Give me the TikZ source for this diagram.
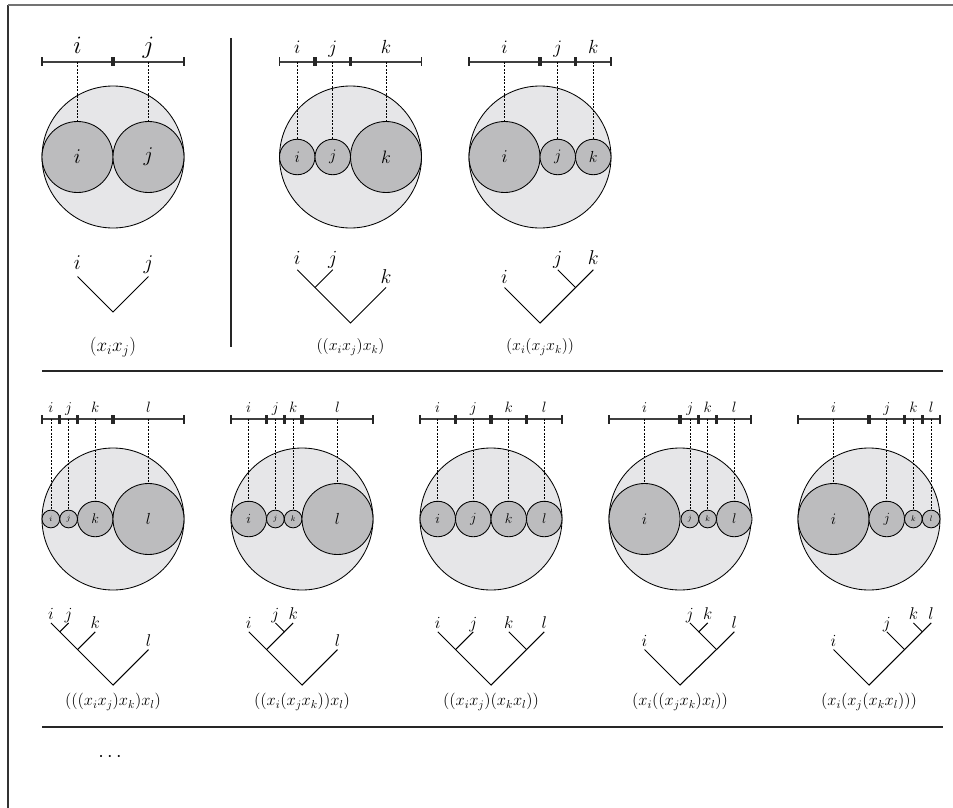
\RequirePackage{fix-cm}
\documentclass[tikz,border=0pt]{standalone}
\definecolor{bigfill}{HTML}{E6E6E8}
\definecolor{subfill}{HTML}{BCBCBE}
\newcommand{\myfs}[1]{\fontsize{#1}{#1}\selectfont}
% tick node: name, x, y, style
\newcommand{\mktick}[4]{\node[#4] (#1) at (#2,#3) {};}
% sub circle: name, x, y, diameter, font size, letter
\newcommand{\mkcirc}[6]{\node[subc, minimum size=#4pt, font=\myfs{#5}] (#1) at (#2,#3) {$#6$};}
% guide + top label: circle name, x, bar y, label baseline y, font size, letter
\newcommand{\mkguide}[6]{%
  \coordinate (#1g) at (#2,#3);
  \draw[guide] (#1g) -- (#1.north);
  \node[anchor=base, inner sep=0pt, font=\myfs{#5}] (#1lab) at (#2,#4) {$#6$};}
% tree leaf: name, x, y, label offset, font size, letter
\newcommand{\mkleaf}[6]{%
  \coordinate (#1) at (#2,#3);
  \node[anchor=base, inner sep=0pt, font=\myfs{#5}] (#1lab) at (#2,#3-#4) {$#6$};}
\begin{document}
\begin{tikzpicture}[x=1pt,y=-1pt,
  bigc/.style={circle, draw=black, line width=0.85pt, fill=bigfill, minimum size=142pt, inner sep=0pt},
  subc/.style={circle, draw=black, line width=0.85pt, fill=subfill, inner sep=0pt},
  barline/.style={line width=1.3pt, draw=black!75},
  etick/.style={rectangle, fill=black!85, minimum width=1.8pt, minimum height=9pt, inner sep=0pt},
  mtick/.style={rectangle, fill=black!85, minimum width=3.4pt, minimum height=9pt, inner sep=0pt},
  guide/.style={dash pattern=on 2pt off 1.4pt, line width=0.7pt},
  branch/.style={line width=1.05pt, draw=black},
  sepline/.style={line width=2.6pt, draw=black!85},
  capt/.style={inner sep=0pt}
]
\useasboundingbox (0,0) rectangle (953,808);
% frame
\coordinate (F0) at (8,808); \coordinate (F1) at (8,5); \coordinate (F2) at (953,5);
\draw[line width=1.3pt, black!80] (F0) -- (F1);
\draw[line width=2pt, black!55] (F1) -- (F2);
% separators
\coordinate (S1a) at (42,371); \coordinate (S1b) at (943,371);
\coordinate (S2a) at (42,727); \coordinate (S2b) at (943,727);
\coordinate (V1a) at (231,38); \coordinate (V1b) at (231,347);
\draw[sepline] (S1a) -- (S1b);
\draw[sepline] (S2a) -- (S2b);
\draw[sepline] (V1a) -- (V1b);

%%%%%%%% Panel A
\coordinate (Ab0) at (42,62); \coordinate (Ab1) at (184,62);
\draw[barline] (Ab0) -- (Ab1);
\mktick{At0}{42}{62}{etick}\mktick{At1}{113}{62}{mtick}\mktick{At2}{184}{62}{etick}
\node[bigc] (Abig) at (113,157) {};
\mkcirc{Ai}{77.5}{157}{71}{21}{i}
\mkcirc{Aj}{148.5}{157}{71}{21}{j}
\mkguide{Ai}{77.5}{62}{53.5}{25}{i}
\mkguide{Aj}{148.5}{62}{53.5}{25}{j}
\coordinate (Ar) at (113,312);
\mkleaf{Ali}{77.5}{276.5}{7}{21}{i}
\mkleaf{Alj}{148.5}{276.5}{7}{21}{j}
\draw[branch] (Ali) -- (Ar) -- (Alj);
\node[capt, font=\myfs{19}] (Acap) at (113,347) {$(x_ix_j)$};

%%%%%%%% Panel B
\coordinate (Bb0) at (279.5,62); \coordinate (Bb1) at (421.5,62);
\draw[barline] (Bb0) -- (Bb1);
\mktick{Bt0}{279.5}{62}{etick}\mktick{Bt1}{315}{62}{mtick}\mktick{Bt2}{350.5}{62}{mtick}\mktick{Bt3}{421.5}{62}{etick}
\node[bigc] (Bbig) at (350.5,157) {};
\mkcirc{Bi}{297.25}{157}{35.5}{16}{i}
\mkcirc{Bj}{332.75}{157}{35.5}{16}{j}
\mkcirc{Bk}{386}{157}{71}{18}{k}
\mkguide{Bi}{297.25}{62}{53.5}{19}{i}
\mkguide{Bj}{332.75}{62}{53.5}{19}{j}
\mkguide{Bk}{386}{62}{53.5}{19}{k}
\coordinate (Br) at (350.5,323); \coordinate (Bn1) at (315,287.5);
\mkleaf{Bli}{297.25}{269.75}{5}{20}{i}
\mkleaf{Blj}{332.75}{269.75}{5}{20}{j}
\mkleaf{Blk}{386}{287.5}{4}{20}{k}
\draw[branch] (Bli) -- (Bn1) -- (Br) -- (Blk);
\draw[branch] (Blj) -- (Bn1);
\node[capt, font=\myfs{16}] (Bcap) at (350.5,347) {$((x_ix_j)x_k)$};

%%%%%%%% Panel C
\coordinate (Cb0) at (469,62); \coordinate (Cb1) at (611,62);
\draw[barline] (Cb0) -- (Cb1);
\mktick{Ct0}{469}{62}{etick}\mktick{Ct1}{540}{62}{mtick}\mktick{Ct2}{575.5}{62}{mtick}\mktick{Ct3}{611}{62}{etick}
\node[bigc] (Cbig) at (540,157) {};
\mkcirc{Ci}{504.5}{157}{71}{18}{i}
\mkcirc{Cj}{557.75}{157}{35.5}{16}{j}
\mkcirc{Ck}{593.25}{157}{35.5}{16}{k}
\mkguide{Ci}{504.5}{62}{53.5}{19}{i}
\mkguide{Cj}{557.75}{62}{53.5}{19}{j}
\mkguide{Ck}{593.25}{62}{53.5}{19}{k}
\coordinate (Cr) at (540,323); \coordinate (Cn1) at (575.5,287.5);
\mkleaf{Cli}{504.5}{287.5}{4}{20}{i}
\mkleaf{Clj}{557.75}{269.75}{5}{20}{j}
\mkleaf{Clk}{593.25}{269.75}{5}{20}{k}
\draw[branch] (Cli) -- (Cr) -- (Cn1) -- (Clk);
\draw[branch] (Clj) -- (Cn1);
\node[capt, font=\myfs{16}] (Ccap) at (540,347) {$(x_i(x_jx_k))$};

%%%%%%%% Row 2, panel 1
\coordinate (Db0) at (42,419); \coordinate (Db1) at (184,419);
\draw[barline] (Db0) -- (Db1);
\mktick{Dt0}{42}{419}{etick}\mktick{Dt1}{59.75}{419}{mtick}\mktick{Dt2}{77.5}{419}{mtick}\mktick{Dt3}{113}{419}{mtick}\mktick{Dt4}{184}{419}{etick}
\node[bigc] (Dbig) at (113,519) {};
\mkcirc{Di}{50.875}{519}{17.75}{8}{i}
\mkcirc{Dj}{68.625}{519}{17.75}{8}{j}
\mkcirc{Dk}{95.25}{519}{35.5}{14}{k}
\mkcirc{Dl}{148.5}{519}{71}{16}{l}
\mkguide{Di}{50.875}{419}{412}{15}{i}
\mkguide{Dj}{68.625}{419}{412}{15}{j}
\mkguide{Dk}{95.25}{419}{412}{15}{k}
\mkguide{Dl}{148.5}{419}{412}{15}{l}
\coordinate (Dr) at (113,685); \coordinate (Dn2) at (77.5,649.5); \coordinate (Dn1) at (59.75,631.75);
\mkleaf{Dli}{50.875}{622.875}{3.5}{17}{i}
\mkleaf{Dlj}{68.625}{622.875}{3.5}{17}{j}
\mkleaf{Dlk}{95.25}{631.75}{3.5}{17}{k}
\mkleaf{Dll}{148.5}{649.5}{3.5}{17}{l}
\draw[branch] (Dli) -- (Dn1) -- (Dn2) -- (Dr) -- (Dll);
\draw[branch] (Dlj) -- (Dn1);
\draw[branch] (Dlk) -- (Dn2);
\node[capt, font=\myfs{16.5}] (Dcap) at (113,702) {$(((x_ix_j)x_k)x_l)$};

%%%%%%%% Row 2, panel 2
\coordinate (Eb0) at (231,419); \coordinate (Eb1) at (373,419);
\draw[barline] (Eb0) -- (Eb1);
\mktick{Et0}{231}{419}{etick}\mktick{Et1}{266.5}{419}{mtick}\mktick{Et2}{284.25}{419}{mtick}\mktick{Et3}{302}{419}{mtick}\mktick{Et4}{373}{419}{etick}
\node[bigc] (Ebig) at (302,519) {};
\mkcirc{Ei}{248.75}{519}{35.5}{14}{i}
\mkcirc{Ej}{275.375}{519}{17.75}{8}{j}
\mkcirc{Ek}{293.125}{519}{17.75}{8}{k}
\mkcirc{El}{337.5}{519}{71}{16}{l}
\mkguide{Ei}{248.75}{419}{412}{15}{i}
\mkguide{Ej}{275.375}{419}{412}{15}{j}
\mkguide{Ek}{293.125}{419}{412}{15}{k}
\mkguide{El}{337.5}{419}{412}{15}{l}
\coordinate (Er) at (302,685); \coordinate (En2) at (266.5,649.5); \coordinate (En1) at (284.25,631.75);
\mkleaf{Eli}{248.75}{631.75}{3.5}{17}{i}
\mkleaf{Elj}{275.375}{622.875}{3.5}{17}{j}
\mkleaf{Elk}{293.125}{622.875}{3.5}{17}{k}
\mkleaf{Ell}{337.5}{649.5}{3.5}{17}{l}
\draw[branch] (Eli) -- (En2) -- (Er) -- (Ell);
\draw[branch] (Elj) -- (En1) -- (Elk);
\draw[branch] (En1) -- (En2);
\node[capt, font=\myfs{16.5}] (Ecap) at (302,702) {$((x_i(x_jx_k))x_l)$};

%%%%%%%% Row 2, panel 3
\coordinate (Gb0) at (420,419); \coordinate (Gb1) at (562,419);
\draw[barline] (Gb0) -- (Gb1);
\mktick{Gt0}{420}{419}{etick}\mktick{Gt1}{455.5}{419}{mtick}\mktick{Gt2}{491}{419}{mtick}\mktick{Gt3}{526.5}{419}{mtick}\mktick{Gt4}{562}{419}{etick}
\node[bigc] (Gbig) at (491,519) {};
\mkcirc{Gi}{437.75}{519}{35.5}{14}{i}
\mkcirc{Gj}{473.25}{519}{35.5}{14}{j}
\mkcirc{Gk}{508.75}{519}{35.5}{14}{k}
\mkcirc{Gl}{544.25}{519}{35.5}{14}{l}
\mkguide{Gi}{437.75}{419}{412}{15}{i}
\mkguide{Gj}{473.25}{419}{412}{15}{j}
\mkguide{Gk}{508.75}{419}{412}{15}{k}
\mkguide{Gl}{544.25}{419}{412}{15}{l}
\coordinate (Gr) at (491,685); \coordinate (Gn1) at (455.5,649.5); \coordinate (Gn2) at (526.5,649.5);
\mkleaf{Gli}{437.75}{631.75}{3.5}{17}{i}
\mkleaf{Glj}{473.25}{631.75}{3.5}{17}{j}
\mkleaf{Glk}{508.75}{631.75}{3.5}{17}{k}
\mkleaf{Gll}{544.25}{631.75}{3.5}{17}{l}
\draw[branch] (Gli) -- (Gn1) -- (Gr) -- (Gn2) -- (Gll);
\draw[branch] (Glj) -- (Gn1);
\draw[branch] (Glk) -- (Gn2);
\node[capt, font=\myfs{16.5}] (Gcap) at (491,702) {$((x_ix_j)(x_kx_l))$};

%%%%%%%% Row 2, panel 4
\coordinate (Hb0) at (609,419); \coordinate (Hb1) at (751,419);
\draw[barline] (Hb0) -- (Hb1);
\mktick{Ht0}{609}{419}{etick}\mktick{Ht1}{680}{419}{mtick}\mktick{Ht2}{698.75}{419}{mtick}\mktick{Ht3}{716.5}{419}{mtick}\mktick{Ht4}{751}{419}{etick}
\node[bigc] (Hbig) at (680,519) {};
\mkcirc{Hi}{644.5}{519}{71}{16}{i}
\mkcirc{Hj}{689.875}{519}{17.75}{8}{j}
\mkcirc{Hk}{707.625}{519}{17.75}{8}{k}
\mkcirc{Hl}{734.25}{519}{35.5}{14}{l}
\mkguide{Hi}{644.5}{419}{412}{15}{i}
\mkguide{Hj}{689.875}{419}{412}{15}{j}
\mkguide{Hk}{707.625}{419}{412}{15}{k}
\mkguide{Hl}{734.25}{419}{412}{15}{l}
\coordinate (Hr) at (680,685); \coordinate (Hn2) at (716.5,649.5); \coordinate (Hn1) at (698.75,631.75);
\mkleaf{Hli}{644.5}{649.5}{3.5}{17}{i}
\mkleaf{Hlj}{689.875}{622.875}{3.5}{17}{j}
\mkleaf{Hlk}{707.625}{622.875}{3.5}{17}{k}
\mkleaf{Hll}{734.25}{631.75}{3.5}{17}{l}
\draw[branch] (Hli) -- (Hr) -- (Hn2) -- (Hll);
\draw[branch] (Hlj) -- (Hn1) -- (Hlk);
\draw[branch] (Hn1) -- (Hn2);
\node[capt, font=\myfs{16.5}] (Hcap) at (680,702) {$(x_i((x_jx_k)x_l))$};

%%%%%%%% Row 2, panel 5
\coordinate (Kb0) at (798,419); \coordinate (Kb1) at (940,419);
\draw[barline] (Kb0) -- (Kb1);
\mktick{Kt0}{798}{419}{etick}\mktick{Kt1}{869}{419}{mtick}\mktick{Kt2}{904.5}{419}{mtick}\mktick{Kt3}{922.25}{419}{mtick}\mktick{Kt4}{940}{419}{etick}
\node[bigc] (Kbig) at (869,519) {};
\mkcirc{Ki}{833.5}{519}{71}{16}{i}
\mkcirc{Kj}{886.75}{519}{35.5}{14}{j}
\mkcirc{Kk}{913.375}{519}{17.75}{8}{k}
\mkcirc{Kl}{931.125}{519}{17.75}{8}{l}
\mkguide{Ki}{833.5}{419}{412}{15}{i}
\mkguide{Kj}{886.75}{419}{412}{15}{j}
\mkguide{Kk}{913.375}{419}{412}{15}{k}
\mkguide{Kl}{931.125}{419}{412}{15}{l}
\coordinate (Kr) at (869,685); \coordinate (Kn2) at (904.5,649.5); \coordinate (Kn1) at (922.25,631.75);
\mkleaf{Kli}{833.5}{649.5}{3.5}{17}{i}
\mkleaf{Klj}{886.75}{631.75}{3.5}{17}{j}
\mkleaf{Klk}{913.375}{622.875}{3.5}{17}{k}
\mkleaf{Kll}{931.125}{622.875}{3.5}{17}{l}
\draw[branch] (Kli) -- (Kr) -- (Kn2) -- (Kn1) -- (Kll);
\draw[branch] (Klj) -- (Kn2);
\draw[branch] (Klk) -- (Kn1);
\node[capt, font=\myfs{16.5}] (Kcap) at (869,702) {$(x_i(x_j(x_kx_l)))$};

% dots
\node[font=\myfs{20}] (dots) at (110,757) {$\cdots$};
\end{tikzpicture}
\end{document}
